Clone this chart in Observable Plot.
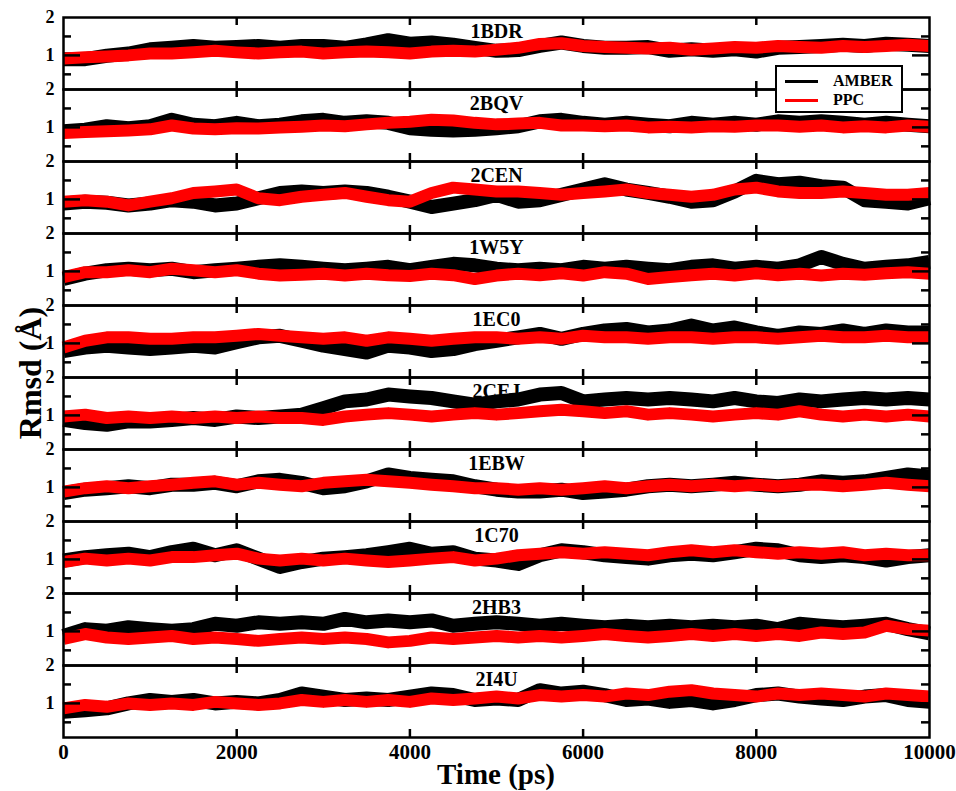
<!DOCTYPE html>
<html><head><meta charset="utf-8">
<script src="https://cdn.jsdelivr.net/npm/d3@7"></script>
<script src="https://cdn.jsdelivr.net/npm/@observablehq/plot@0.6"></script>
<style>
body{margin:0;background:#fff;}
#wrap{position:relative;width:956px;height:791px;font-family:"Liberation Serif",serif;font-weight:bold;color:#000;}
#legend{position:absolute;left:775px;top:65px;width:124px;height:44px;border:2px solid #000;background:#fff;}
.lrow{position:absolute;left:0;width:124px;height:20px;}
.lline{position:absolute;left:8px;width:33px;height:3px;top:9px;}
.ltext{position:absolute;left:56px;top:0;font-size:16px;line-height:20px;}
#ytitle{position:absolute;left:-70px;top:355px;width:200px;height:36px;line-height:36px;text-align:center;font-size:32px;transform:rotate(-90deg);}
#xtitle{position:absolute;left:346px;top:758px;width:300px;text-align:center;font-size:29px;line-height:32px;}
</style></head>
<body>
<div id="wrap">
  <div id="chart"></div>
  <div id="legend">
    <div class="lrow" style="top:4px"><div class="lline" style="background:#000"></div><div class="ltext">AMBER</div></div>
    <div class="lrow" style="top:23px"><div class="lline" style="background:#ff0000"></div><div class="ltext">PPC</div></div>
  </div>
  <div id="ytitle">Rmsd (Å)</div>
  <div id="xtitle">Time (ps)</div>
</div>
<script>
const panels = ["1BDR","2BQV","2CEN","1W5Y","1EC0","2CEJ","1EBW","1C70","2HB3","2I4U"];
const times = d3.range(0, 10001, 250);
const xTicks = [0, 2000, 4000, 6000, 8000, 10000];
const xInnerTicks = [2000, 4000, 6000, 8000];
const yLabels = [1, 2];
const yMajor = [1];
const yMinor = [0.5, 1.5];

const amber1BDR = [0.9,0.9,0.99,1.05,1.16,1.2,1.25,1.2,1.22,1.25,1.2,1.25,1.25,1.2,1.29,1.4,1.31,1.34,1.28,1.2,1.12,1.14,1.25,1.34,1.25,1.2,1.2,1.22,1.12,1.16,1.12,1.16,1.1,1.2,1.22,1.25,1.28,1.25,1.31,1.28,1.25];
const ppc1BDR   = [0.92,0.95,0.97,1.0,1.05,1.05,1.08,1.12,1.08,1.05,1.08,1.1,1.05,1.08,1.1,1.08,1.05,1.1,1.12,1.1,1.15,1.2,1.3,1.32,1.25,1.22,1.2,1.18,1.2,1.15,1.18,1.22,1.2,1.25,1.22,1.2,1.25,1.22,1.25,1.28,1.25];
const amber2BQV = [0.9,0.94,1.03,0.98,1.03,1.2,1.07,1.03,1.12,1.03,1.07,1.16,1.2,1.12,1.16,1.12,0.98,0.94,0.92,0.94,0.98,1.03,1.16,1.2,1.12,1.07,1.12,1.07,1.03,1.12,1.07,1.12,1.07,1.16,1.12,1.16,1.12,1.07,1.12,1.07,1.03];
const ppc2BQV   = [0.85,0.88,0.9,0.92,0.95,1.05,0.97,0.95,0.98,0.97,1.0,1.02,1.05,1.03,1.08,1.12,1.15,1.2,1.18,1.12,1.08,1.1,1.12,1.05,1.05,1.03,1.05,1.0,1.02,1.0,1.03,1.02,1.05,1.05,1.02,1.05,1.0,1.03,1.0,1.05,1.02];
const amber2CEN = [0.89,0.94,0.91,0.84,0.89,0.98,0.94,0.84,0.89,1.03,1.17,1.21,1.17,1.21,1.17,1.07,0.94,0.8,0.89,0.98,1.12,0.94,0.98,1.12,1.26,1.4,1.26,1.17,1.07,0.94,0.98,1.21,1.49,1.4,1.44,1.35,1.31,0.98,0.94,0.89,1.03];
const ppc2CEN   = [0.94,0.98,0.94,0.84,0.94,1.03,1.17,1.21,1.26,1.03,0.98,1.07,1.12,1.17,1.07,0.98,0.94,1.17,1.31,1.26,1.21,1.21,1.17,1.12,1.17,1.21,1.26,1.17,1.12,1.07,1.12,1.26,1.31,1.21,1.17,1.17,1.21,1.17,1.12,1.12,1.17];
const amber1W5Y = [0.8,0.94,1.03,1.07,1.03,1.07,0.98,1.03,1.07,1.12,1.16,1.12,1.07,1.03,1.07,1.12,1.03,1.12,1.2,1.16,1.07,1.03,1.07,1.03,1.12,1.07,1.12,1.07,1.03,1.12,1.16,1.07,1.12,1.07,1.16,1.38,1.2,1.07,1.12,1.16,1.25];
const ppc1W5Y   = [0.85,0.98,0.98,1.03,0.98,1.07,1.03,0.98,1.03,0.94,0.89,0.91,0.94,0.89,0.94,0.9,0.88,0.94,0.9,0.8,0.89,0.94,0.9,0.95,0.89,0.98,0.94,0.8,0.85,0.9,0.94,0.89,0.95,0.9,0.94,0.89,0.94,0.91,0.95,0.98,0.94];
const amber1EC0 = [0.8,0.89,0.94,0.89,0.85,0.89,0.94,0.89,1.03,1.16,1.2,1.07,0.94,0.85,0.76,0.94,0.89,0.8,0.85,0.98,1.07,1.16,1.25,1.12,1.25,1.34,1.38,1.29,1.34,1.47,1.34,1.42,1.29,1.2,1.29,1.25,1.34,1.25,1.34,1.29,1.29];
const ppc1EC0   = [0.89,1.07,1.16,1.16,1.12,1.12,1.16,1.16,1.2,1.25,1.2,1.16,1.12,1.16,1.07,1.16,1.12,1.07,1.12,1.16,1.16,1.12,1.16,1.12,1.2,1.16,1.16,1.12,1.16,1.16,1.12,1.16,1.16,1.12,1.16,1.2,1.16,1.16,1.2,1.16,1.16];
const amber2CEJ = [0.88,0.8,0.75,0.84,0.84,0.88,0.93,0.88,0.97,0.93,0.97,1.02,1.19,1.37,1.42,1.55,1.5,1.46,1.37,1.28,1.37,1.42,1.55,1.59,1.37,1.42,1.46,1.42,1.46,1.42,1.37,1.46,1.37,1.33,1.42,1.37,1.42,1.46,1.42,1.46,1.42];
const ppc2CEJ   = [0.97,1.02,0.93,0.97,0.93,0.97,0.93,0.97,0.93,0.97,0.93,0.93,0.88,0.97,1.02,1.06,1.02,0.97,1.02,1.06,1.02,1.06,1.11,1.15,1.11,1.06,1.11,1.02,1.06,1.02,0.97,1.02,1.06,1.02,1.11,1.02,0.97,1.02,0.97,1.02,0.97];
const amber1EBW = [0.85,0.94,0.98,1.03,0.98,1.07,1.07,1.12,1.03,1.16,1.2,1.12,0.98,1.03,1.16,1.34,1.25,1.2,1.16,1.03,0.94,0.89,0.89,0.94,0.85,0.89,0.94,1.03,1.07,1.03,1.07,1.12,1.07,1.03,1.07,1.16,1.12,1.16,1.25,1.34,1.29];
const ppc1EBW   = [0.89,0.98,1.03,0.98,1.03,1.07,1.12,1.16,1.07,1.12,1.07,1.03,1.12,1.16,1.2,1.16,1.12,1.07,1.03,0.98,0.98,0.94,0.98,0.94,0.98,1.03,0.98,1.03,1.07,1.03,1.07,1.03,1.07,1.03,1.07,1.07,1.03,1.07,1.12,1.07,1.03];
const amber1C70 = [0.97,1.06,1.11,1.15,1.06,1.19,1.28,1.11,1.24,1.02,0.8,0.93,1.02,1.06,1.11,1.19,1.28,1.15,1.19,1.02,0.97,0.88,1.11,1.24,1.19,1.11,1.06,1.02,1.11,1.15,1.11,1.19,1.28,1.24,1.11,1.06,1.11,1.06,0.97,1.06,1.11];
const ppc1C70   = [0.93,1.02,0.97,1.02,0.97,1.06,1.06,1.11,1.15,1.02,0.97,1.02,0.97,1.02,0.97,0.93,0.97,1.02,1.06,0.97,1.02,1.11,1.15,1.19,1.15,1.19,1.15,1.11,1.19,1.24,1.19,1.24,1.19,1.15,1.19,1.15,1.19,1.11,1.15,1.11,1.11];
const amber2HB3 = [0.88,1.06,1.02,1.11,1.06,1.02,1.06,1.2,1.15,1.24,1.2,1.24,1.2,1.33,1.24,1.29,1.24,1.29,1.15,1.2,1.24,1.2,1.15,1.2,1.15,1.11,1.15,1.11,1.15,1.11,1.15,1.11,1.15,1.06,1.2,1.15,1.11,1.15,1.2,1.06,0.95];
const ppc2HB3   = [0.8,0.93,0.84,0.8,0.84,0.88,0.8,0.84,0.8,0.75,0.8,0.84,0.8,0.84,0.8,0.71,0.75,0.84,0.8,0.84,0.88,0.84,0.88,0.84,0.88,0.93,0.88,0.84,0.88,0.93,0.88,0.93,0.88,0.93,0.88,0.97,0.93,0.97,1.15,1.06,1.02];
const amber2I4U = [0.78,0.82,0.87,1.0,1.09,1.04,1.09,1.0,1.04,1.0,1.09,1.26,1.18,1.09,1.13,1.09,1.18,1.26,1.22,1.09,1.13,1.09,1.35,1.26,1.31,1.22,1.09,1.13,1.04,1.09,1.0,1.09,1.22,1.26,1.18,1.13,1.09,1.18,1.22,1.09,1.04];
const ppc2I4U   = [0.87,0.96,0.91,1.0,0.96,1.0,0.96,1.04,1.0,0.96,1.0,1.09,1.04,1.09,1.04,1.09,1.04,1.13,1.09,1.13,1.18,1.13,1.22,1.18,1.22,1.18,1.26,1.22,1.31,1.35,1.26,1.22,1.18,1.26,1.22,1.26,1.22,1.18,1.26,1.22,1.18];

const amberSeries = [amber1BDR, amber2BQV, amber2CEN, amber1W5Y, amber1EC0, amber2CEJ, amber1EBW, amber1C70, amber2HB3, amber2I4U];
const ppcSeries = [ppc1BDR, ppc2BQV, ppc2CEN, ppc1W5Y, ppc1EC0, ppc2CEJ, ppc1EBW, ppc1C70, ppc2HB3, ppc2I4U];

function rows(list) {
  return list.flatMap((vals, k) => vals.map((v, i) => ({panel: panels[k], t: times[i], v})));
}
const amberRows = rows(amberSeries);
const ppcRows = rows(ppcSeries);

const yMin = 0.1, yMax = 2;
const lw = 2.5;

const chart = Plot.plot({
  width: 956,
  height: 791,
  marginTop: 16,
  marginBottom: 54,
  marginLeft: 63,
  marginRight: 27,
  style: {fontFamily: '"Liberation Serif", serif', fontWeight: "bold", color: "#000", background: "#fff"},
  x: {domain: [0, 10000], axis: null},
  y: {domain: [yMin, yMax], axis: null},
  fy: {domain: panels, padding: 0, axis: null},
  marks: [
    Plot.text(panels, {fy: d => d, text: d => d, frameAnchor: "top", lineAnchor: "middle", dy: 14, fontSize: 20, fontWeight: "bold", fill: "#000"}),
    Plot.line(amberRows, {x: "t", y: "v", fy: "panel", stroke: "#000", strokeWidth: 14, strokeLinejoin: "round", strokeLinecap: "butt"}),
    Plot.line(ppcRows, {x: "t", y: "v", fy: "panel", stroke: "#ff0000", strokeWidth: 12, strokeLinejoin: "round", strokeLinecap: "butt"}),
    Plot.frame({stroke: "#000", strokeWidth: lw}),
    Plot.ruleX(xInnerTicks, {x: d => d, y1: yMax, y2: yMax, insetBottom: -8, stroke: "#000", strokeWidth: lw}),
    Plot.ruleX(xInnerTicks, {x: d => d, y1: yMin, y2: yMin, insetTop: -8, stroke: "#000", strokeWidth: lw}),
    Plot.ruleY(yMajor, {y: d => d, x1: 0, x2: 0, insetRight: -17, stroke: "#000", strokeWidth: lw}),
    Plot.ruleY(yMinor, {y: d => d, x1: 0, x2: 0, insetRight: -8, stroke: "#000", strokeWidth: lw}),
    Plot.ruleY(yMajor, {y: d => d, x1: 10000, x2: 10000, insetLeft: -17, stroke: "#000", strokeWidth: lw}),
    Plot.ruleY(yMinor, {y: d => d, x1: 10000, x2: 10000, insetLeft: -8, stroke: "#000", strokeWidth: lw}),
    Plot.text(yLabels, {y: d => d, text: d => String(d), frameAnchor: "left", dx: -9, textAnchor: "end", fontSize: 18, fontWeight: "bold", fill: "#000"}),
    Plot.axisX({ticks: xTicks, tickSize: 0, tickPadding: 7, tickFormat: d => String(d), fontSize: 21, fontWeight: "bold", label: null})
  ]
});
document.getElementById("chart").appendChild(chart);
</script>
</body></html>
